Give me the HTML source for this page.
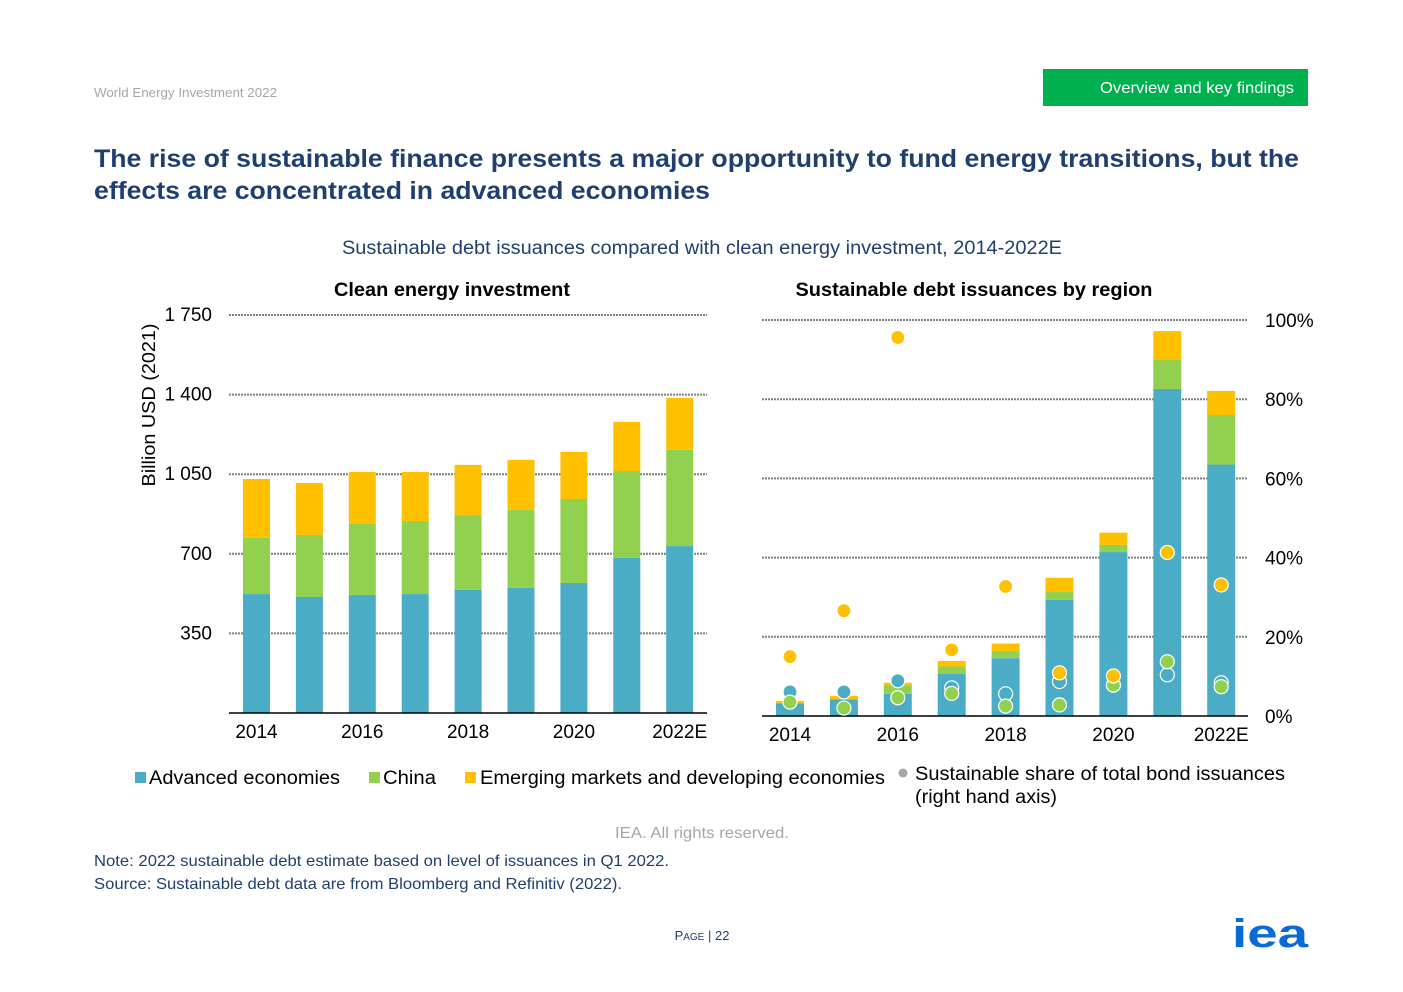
<!DOCTYPE html>
<html><head><meta charset="utf-8"><style>
html,body{margin:0;padding:0;background:#fff;}
svg{display:block;font-family:"Liberation Sans",Arial,sans-serif;}
</style></head><body>
<svg id="page" width="1403" height="992" viewBox="0 0 1403 992" xmlns="http://www.w3.org/2000/svg">
<text x="94" y="97" font-size="13" fill="#a6a6a6" textLength="183" lengthAdjust="spacingAndGlyphs">World Energy Investment 2022</text>
<rect x="1043" y="69" width="265" height="37" fill="#00b050"/>
<text x="1100" y="93" font-size="16" fill="#fff" textLength="194" lengthAdjust="spacingAndGlyphs">Overview and key findings</text>
<text x="94" y="167" font-size="25" font-weight="bold" fill="#1f3f6f" textLength="1205" lengthAdjust="spacingAndGlyphs">The rise of sustainable finance presents a major opportunity to fund energy transitions, but the</text>
<text x="94" y="199" font-size="25" font-weight="bold" fill="#1f3f6f" textLength="616" lengthAdjust="spacingAndGlyphs">effects are concentrated in advanced economies</text>
<text x="702" y="254" font-size="19" fill="#1f3f6f" text-anchor="middle" textLength="720" lengthAdjust="spacingAndGlyphs">Sustainable debt issuances compared with clean energy investment, 2014-2022E</text>
<text x="452" y="296" font-size="19" font-weight="bold" fill="#000" text-anchor="middle" textLength="236" lengthAdjust="spacingAndGlyphs">Clean energy investment</text>
<text x="974" y="296" font-size="19" font-weight="bold" fill="#000" text-anchor="middle" textLength="357" lengthAdjust="spacingAndGlyphs">Sustainable debt issuances by region</text>
<text transform="translate(155,405) rotate(-90)" font-size="18" fill="#000" text-anchor="middle" textLength="163" lengthAdjust="spacingAndGlyphs">Billion USD (2021)</text>
<g id="left"></g>
<g id="right"></g>
<g>
<rect x="135" y="772" width="11" height="11" fill="#4bacc6"/>
<text x="149" y="784" font-size="19" fill="#000" textLength="191" lengthAdjust="spacingAndGlyphs">Advanced economies</text>
<rect x="369" y="772" width="11" height="11" fill="#92d050"/>
<text x="383" y="784" font-size="19" fill="#000" textLength="53" lengthAdjust="spacingAndGlyphs">China</text>
<rect x="465" y="772" width="11" height="11" fill="#ffc000"/>
<text x="480" y="784" font-size="19" fill="#000" textLength="405" lengthAdjust="spacingAndGlyphs">Emerging markets and developing economies</text>
<circle cx="903" cy="773" r="4.5" fill="#a6a6a6"/>
<text x="915" y="780" font-size="19" fill="#000" textLength="370" lengthAdjust="spacingAndGlyphs">Sustainable share of total bond issuances</text>
<text x="915" y="803" font-size="19" fill="#000" textLength="142" lengthAdjust="spacingAndGlyphs">(right hand axis)</text>
</g>
<text x="702" y="838" font-size="16" fill="#a6a6a6" text-anchor="middle" textLength="174" lengthAdjust="spacingAndGlyphs">IEA. All rights reserved.</text>
<text x="94" y="866" font-size="16" fill="#1f3f6f" textLength="575" lengthAdjust="spacingAndGlyphs">Note: 2022 sustainable debt estimate based on level of issuances in Q1 2022.</text>
<text x="94" y="889" font-size="16" fill="#1f3f6f" textLength="528" lengthAdjust="spacingAndGlyphs">Source: Sustainable debt data are from Bloomberg and Refinitiv (2022).</text>
<text x="702" y="940" font-size="13" fill="#1f3f6f" text-anchor="middle">P<tspan font-size="10">AGE</tspan> | 22</text>
<text x="1270" y="947" font-size="40" font-weight="bold" fill="#0a6ad8" text-anchor="middle" textLength="76" lengthAdjust="spacingAndGlyphs">iea</text>
</svg>
<script>
const years = ["2014","2015","2016","2017","2018","2019","2020","2021","2022E"];
const xLabels = ["2014","2016","2018","2020","2022E"];
const ceAdvanced = [523,510,519,523,541,550,572,682,734];
const ceChina = [247,273,312,321,330,343,369,382,423];
const ceEmde = [259,228,229,216,220,220,207,216,228];
const leftTicks = [350,700,1050,1400,1750];
const leftTickLabels = ["350","700","1 050","1 400","1 750"];
const sdAdvanced = [32,42,56,106,146,293,414,826,635];
const sdChina = [0,0,21,19,18,20,18,73,125];
const sdEmde = [6,9,7,14,19,36,31,73,61];
const shareAdvanced = [6.1,6.1,8.9,7.1,5.6,8.7,7.8,10.4,8.4];
const shareChina = [3.5,2.0,4.6,5.7,2.5,2.8,7.8,13.7,7.4];
const shareEmde = [15.0,26.6,95.6,16.7,32.7,10.9,10.1,41.3,33.1];
const rightTicks = [0,20,40,60,80,100];
const rightTickLabels = ["0%","20%","40%","60%","80%","100%"];
const NS="http://www.w3.org/2000/svg";
const C={a:"#4bacc6",c:"#92d050",e:"#ffc000"};
function mk(p,tag,attrs){const el=document.createElementNS(NS,tag);for(const k in attrs)el.setAttribute(k,attrs[k]);p.appendChild(el);return el;}
// left
const L=document.getElementById('left');
const lY=v=>713-v*(398/1750);
const lX=i=>256.5+i*52.9;
leftTicks.forEach((t,i)=>{
 const g=mk(L,'line',{x1:229,x2:707,y1:lY(t),y2:lY(t),stroke:'#7f7f7f','stroke-width':2,'stroke-dasharray':'2 1'});
 
 
 const tx=mk(L,'text',{x:212,y:lY(t)+6,'font-size':19,'text-anchor':'end',fill:'#000'});
 tx.textContent=leftTickLabels[i];
 
 
});
years.forEach((y,i)=>{
 let base=0;
 [[ceAdvanced,'a'],[ceChina,'c'],[ceEmde,'e']].forEach(([arr,k])=>{
  const v=arr[i];
  const r=mk(L,'rect',{x:lX(i)-13.5,width:27,y:lY(base+v),height:lY(base)-lY(base+v),fill:C[k]});
  
  
  base+=v;
 });
});
{const ax=mk(L,'line',{x1:229,x2:707,y1:713,y2:713,stroke:'#000','stroke-width':1.5});

}
xLabels.forEach(lb=>{
 const i=years.indexOf(lb);
 const t=mk(L,'text',{x:lX(i),y:738,'font-size':19,'text-anchor':'middle',fill:'#000'});
 t.textContent=lb;
 
 
});
// right
const R=document.getElementById('right');
const rY=p=>716-p*3.96;
const bY=v=>716-v*0.396;
const rX=i=>790+i*53.9;
rightTicks.forEach((t,i)=>{
 if(t>0){const g=mk(R,'line',{x1:762,x2:1248,y1:rY(t),y2:rY(t),stroke:'#7f7f7f','stroke-width':2,'stroke-dasharray':'2 1'});
 
 }
 const tx=mk(R,'text',{x:1265,y:rY(t)+7,'font-size':19,fill:'#000'});
 tx.textContent=rightTickLabels[i];
 
 
});
years.forEach((y,i)=>{
 let base=0;
 [[sdAdvanced,'a'],[sdChina,'c'],[sdEmde,'e']].forEach(([arr,k])=>{
  const v=arr[i];
  const r=mk(R,'rect',{x:rX(i)-14,width:28,y:bY(base+v),height:bY(base)-bY(base+v),fill:C[k]});
  
  
  base+=v;
 });
});
{const ax=mk(R,'line',{x1:762,x2:1248,y1:716,y2:716,stroke:'#000','stroke-width':1.5});

}
[[shareAdvanced,'a'],[shareChina,'c'],[shareEmde,'e']].forEach(([arr,k])=>{
 arr.forEach((p,i)=>{
  const c=mk(R,'circle',{cx:rX(i),cy:rY(p),r:7,fill:C[k],stroke:'#fff','stroke-width':1.2});
  
  
 });
});
xLabels.forEach(lb=>{
 const i=years.indexOf(lb);
 const t=mk(R,'text',{x:rX(i),y:741,'font-size':19,'text-anchor':'middle',fill:'#000'});
 t.textContent=lb;
 
 
});
</script>
</body></html>
